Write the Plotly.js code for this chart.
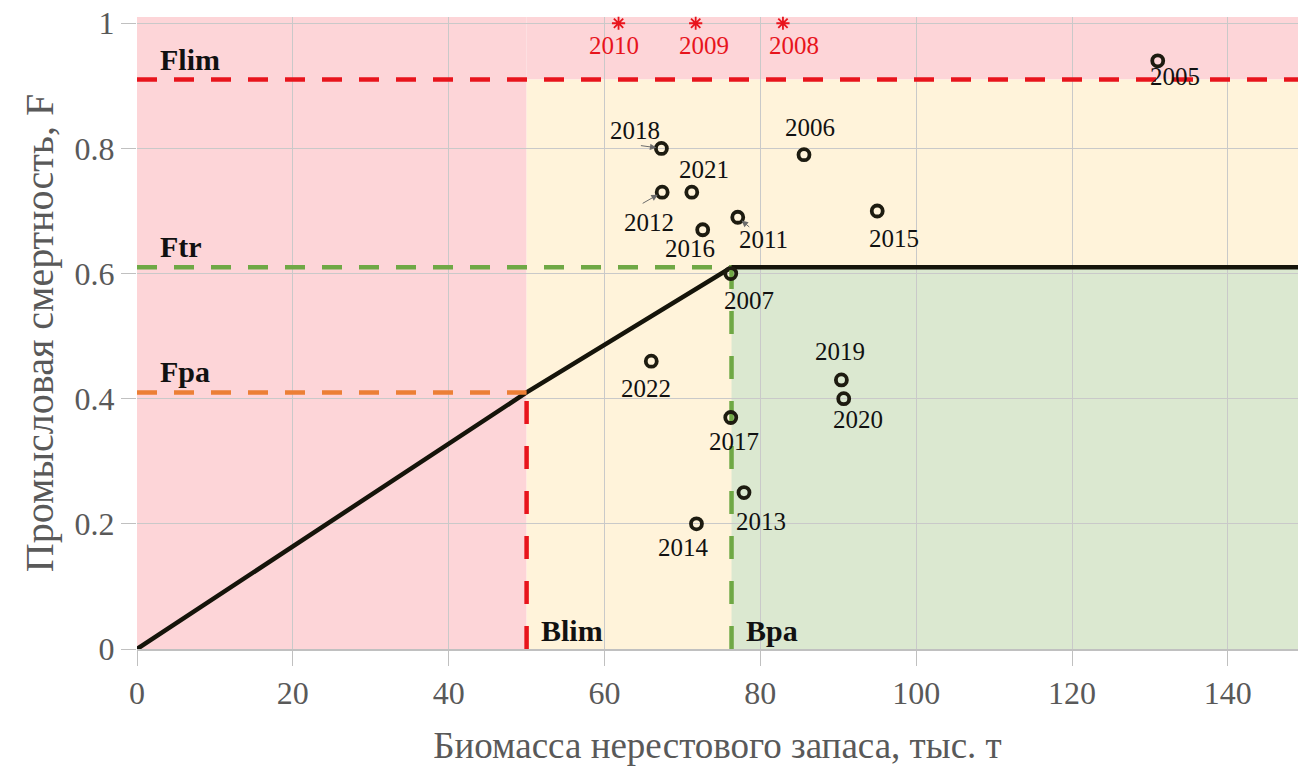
<!DOCTYPE html>
<html>
<head>
<meta charset="utf-8">
<script src="https://cdn.plot.ly/plotly-3.0.1.min.js"></script>
<style>html,body{margin:0;padding:0;background:#fff;}#chart{width:1308px;height:776px;}</style>
</head>
<body>
<div id="chart"></div>
<script>
// ---- data ----
var years   = ['2005','2006','2007','2011','2012','2013','2014','2015','2016','2017','2018','2019','2020','2021','2022'];
var biomass = [131.0, 85.6, 76.2, 77.1, 67.4, 77.9, 71.8, 95.0, 72.6, 76.2, 67.3, 90.4, 90.7, 71.2, 66.0];
var fmort   = [0.94, 0.79, 0.60, 0.69, 0.73, 0.25, 0.20, 0.70, 0.67, 0.37, 0.80, 0.43, 0.40, 0.73, 0.46];

// years with F above the axis maximum (shown at the top edge)
var offYears   = ['2008','2009','2010'];
var offBiomass = [82.9, 71.7, 61.8];
var offF       = [1.0, 1.0, 1.0];

// reference points
var refNames  = ['Flim','Ftr','Fpa','Blim','Bpa'];
var Flim = 0.91, Ftr = 0.61, Fpa = 0.41, Blim = 50, Bpa = 76.3;
var xMax = 149, yMax = 1.01;

// ---- label placement (style) ----
var labelShift = {
  '2005':[17,16], '2006':[6,-27], '2007':[18,27], '2011':[26,22], '2012':[-13,30], '2013':[17,29], '2014':[-13,24],
  '2015':[17,28], '2016':[-13,19], '2017':[3,24], '2018':[-26,-18], '2019':[-1,-28], '2020':[14,21],
  '2021':[12,-23], '2022':[-5,27]
};
// leader arrows: tail offset from point (px)
var arrowTail = { '2018':[-22,-3], '2012':[-21,12], '2011':[13,11] };
var offShift = {'2008':[11,22], '2009':[8,22], '2010':[-5,22]};

var FONT = 'Liberation Serif, Times New Roman, serif';

var traces = [];
// Control rule line
traces.push({x:[0, Blim, Bpa, xMax], y:[0, Fpa, Ftr, Ftr], mode:'lines',
  line:{color:'#15140a', width:4.5}, hoverinfo:'skip', showlegend:false});
// reference dashed lines
traces.push({x:[0, xMax], y:[Flim, Flim], mode:'lines', line:{color:'#e8141c', width:4.5, dash:'20px,17px'}, hoverinfo:'skip', showlegend:false});
traces.push({x:[0, Bpa], y:[Ftr, Ftr], mode:'lines', line:{color:'#6fa845', width:4.5, dash:'20px,17px'}, hoverinfo:'skip', showlegend:false});
traces.push({x:[0, Blim], y:[Fpa, Fpa], mode:'lines', line:{color:'#ec7f35', width:4.5, dash:'20px,17px'}, hoverinfo:'skip', showlegend:false});
traces.push({x:[Blim, Blim], y:[0, Fpa], mode:'lines', line:{color:'#e8141c', width:4.5, dash:'23px,22px'}, hoverinfo:'skip', showlegend:false});
traces.push({x:[Bpa, Bpa], y:[0, Ftr], mode:'lines', line:{color:'#6fa845', width:4.5, dash:'23px,22px'}, hoverinfo:'skip', showlegend:false});
// points
traces.push({x:biomass, y:fmort, text:years, mode:'markers', type:'scatter',
  marker:{symbol:'circle-open', size:11, color:'#1d1b10', line:{width:3.8, color:'#1d1b10'}},
  showlegend:false, cliponaxis:false});
traces.push({x:offBiomass, y:offF, text:offYears, mode:'markers', type:'scatter',
  marker:{symbol:'asterisk-open', size:11, color:'#e8141c', line:{width:1.8, color:'#e8141c'}},
  showlegend:false, cliponaxis:false});

var ann = [];
years.forEach(function(yr, i){
  var s = labelShift[yr] || [0,20];
  ann.push({x:biomass[i], y:fmort[i], text:yr, showarrow:false, xshift:s[0], yshift:-s[1],
    font:{family:FONT, size:25, color:'#111'}});
  if (arrowTail[yr]) {
    ann.push({x:biomass[i], y:fmort[i], text:'', showarrow:true, ax:arrowTail[yr][0], ay:arrowTail[yr][1],
      arrowhead:2, arrowsize:1.3, arrowwidth:1, arrowcolor:'#6b6b6b', standoff:5});
  }
});
offYears.forEach(function(yr, i){
  var s = offShift[yr];
  ann.push({x:offBiomass[i], y:offF[i], text:yr, showarrow:false, xshift:s[0], yshift:-s[1],
    font:{family:FONT, size:25, color:'#e8141c'}});
});
var bold = {family:FONT, size:30, color:'#111'};
ann.push({x:2.7, y:Flim, text:'<b>'+refNames[0]+'</b>', showarrow:false, xanchor:'left', yanchor:'bottom', yshift:2, font:bold});
ann.push({x:2.7, y:Ftr, text:'<b>'+refNames[1]+'</b>', showarrow:false, xanchor:'left', yanchor:'bottom', yshift:2, font:bold});
ann.push({x:2.7, y:Fpa, text:'<b>'+refNames[2]+'</b>', showarrow:false, xanchor:'left', yanchor:'bottom', yshift:2, font:bold});
ann.push({x:Blim, y:0, text:'<b>'+refNames[3]+'</b>', showarrow:false, xanchor:'left', yanchor:'bottom', xshift:12, yshift:0, font:bold});
ann.push({x:Bpa, y:0, text:'<b>'+refNames[4]+'</b>', showarrow:false, xanchor:'left', yanchor:'bottom', xshift:12, yshift:0, font:bold});

var shapes = [
  {type:'rect', xref:'x', yref:'y', x0:0, x1:Blim, y0:0, y1:yMax, fillcolor:'#fdd5d8', line:{width:0}, layer:'below'},
  {type:'rect', xref:'x', yref:'y', x0:Blim, x1:xMax, y0:Flim, y1:yMax, fillcolor:'#fdd5d8', line:{width:0}, layer:'below'},
  {type:'rect', xref:'x', yref:'y', x0:Blim, x1:xMax, y0:0, y1:Flim, fillcolor:'#fff3da', line:{width:0}, layer:'below'},
  {type:'rect', xref:'x', yref:'y', x0:Bpa, x1:xMax, y0:0, y1:Ftr, fillcolor:'#dbe8d0', line:{width:0}, layer:'below'}
];

var layout = {
  width:1308, height:776,
  margin:{l:137, r:10, t:17, b:127},
  paper_bgcolor:'#ffffff', plot_bgcolor:'#ffffff',
  font:{family:FONT, color:'#595959'},
  showlegend:false,
  xaxis:{range:[0, xMax], tickvals:[0,20,40,60,80,100,120,140], showgrid:true, gridcolor:'#c9c9c9', gridwidth:1,
    zeroline:false, showline:true, linecolor:'#c0c0c0', linewidth:2, ticks:'outside', ticklen:15, tickcolor:'#c0c0c0',
    tickfont:{family:FONT, size:32, color:'#595959'},
    title:{text:'Биомасса нерестового запаса, тыс. т', font:{family:FONT, size:37, color:'#595959'}, standoff:22}},
  yaxis:{range:[0, yMax], tickvals:[0,0.2,0.4,0.6,0.8,1], showgrid:true, gridcolor:'#c9c9c9', gridwidth:1,
    zeroline:false, showline:false, ticks:'outside', ticklen:15, tickcolor:'#c0c0c0',
    tickfont:{family:FONT, size:32, color:'#595959'},
    title:{text:'Промысловая смертность, F', font:{family:FONT, size:40, color:'#595959'}, standoff:8}},
  shapes:shapes,
  annotations:ann
};

Plotly.newPlot('chart', traces, layout, {staticPlot:true, displayModeBar:false});
</script>
</body>
</html>
